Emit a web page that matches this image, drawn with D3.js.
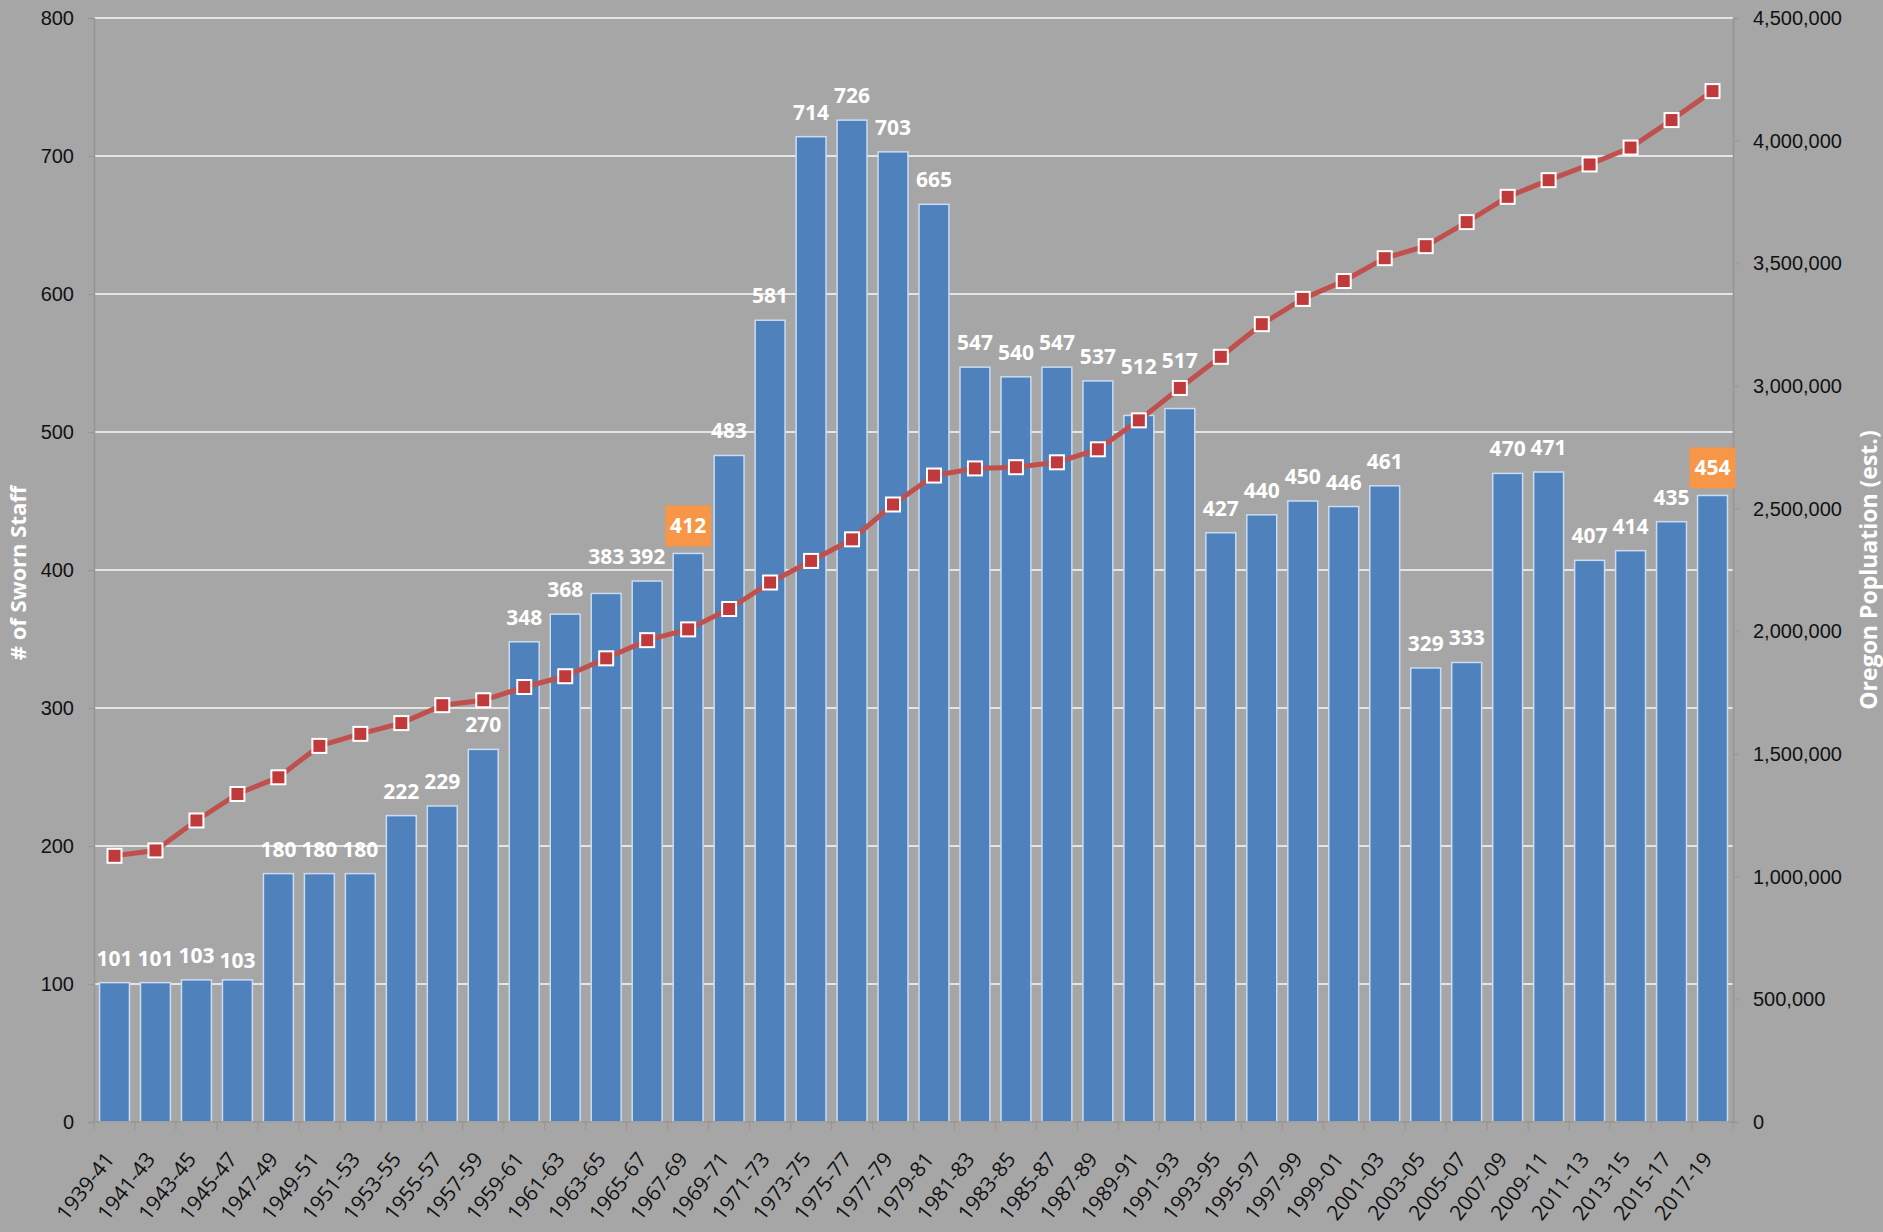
<!DOCTYPE html>
<html>
<head>
<meta charset="utf-8">
<script src="https://d3js.org/d3.v7.min.js"></script>
<style>
    body { margin: 0; background: #a6a6a6; }
    svg { display: block; font-family: "Open Sans", sans-serif; }
</style>
</head>
<body>
<svg width="1883" height="1232"></svg>
<script>
    // biennium periods
    var periods = ["1939-41", "1941-43", "1943-45", "1945-47", "1947-49", "1949-51", "1951-53", "1953-55",
        "1955-57", "1957-59", "1959-61", "1961-63", "1963-65", "1965-67", "1967-69", "1969-71", "1971-73",
        "1973-75", "1975-77", "1977-79", "1979-81", "1981-83", "1983-85", "1985-87", "1987-89", "1989-91",
        "1991-93", "1993-95", "1995-97", "1997-99", "1999-01", "2001-03", "2003-05", "2005-07", "2007-09",
        "2009-11", "2011-13", "2013-15", "2015-17", "2017-19"];

    // # of sworn staff (bars)
    var sworn = [101, 101, 103, 103, 180, 180, 180, 222, 229, 270, 348, 368, 383, 392, 412, 483, 581,
        714, 726, 703, 665, 547, 540, 547, 537, 512, 517, 427, 440, 450, 446, 461, 329, 333, 470,
        471, 407, 414, 435, 454];

    // Oregon population estimate (line)
    var population = [1085000, 1107000, 1229000, 1337000, 1405000, 1533000, 1582000, 1626000, 1699000,
        1719000, 1773000, 1817000, 1890000, 1964000, 2008000, 2091000, 2199000, 2287000, 2375000,
        2517000, 2635000, 2664000, 2669000, 2689000, 2742000, 2860000, 2992000, 3119000, 3252000,
        3355000, 3428000, 3521000, 3570000, 3668000, 3771000, 3839000, 3903000, 3972000, 4084000,
        4202000];

    // labels drawn on an orange box
    var highlighted = ["1967-69", "2017-19"];

    var leftTicks = [0, 100, 200, 300, 400, 500, 600, 700, 800];
    var rightTicks = [0, 500000, 1000000, 1500000, 2000000, 2500000, 3000000, 3500000, 4000000, 4500000];

    // labels that were dragged by hand in the original
    var labelNudge = {"1945-47": 5, "1963-65": -12, "1989-91": -24, "1991-93": -24};

    var svg = d3.select("svg"),
        margin = {top: 18, right: 150, bottom: 110, left: 94},
        width = +svg.attr("width") - margin.left - margin.right,
        height = +svg.attr("height") - margin.top - margin.bottom,
        g = svg.append("g").attr("transform", "translate(" + margin.left + "," + margin.top + ")");

    var data = periods.map(function(p, i) {
        return {period: p, sworn: sworn[i], pop: population[i]};
    });

    var x = d3.scaleBand()
        .domain(periods)
        .range([0, width])
        .paddingInner(0.27)
        .paddingOuter(0.135);

    var y = d3.scaleLinear().domain([0, 800]).range([height, 0]);
    var y2 = d3.scaleLinear().domain([0, 4500000]).range([height, 0]);

    // gridlines
    g.append("g")
        .selectAll("line")
        .data(leftTicks.slice(1))
        .enter().append("line")
        .attr("x1", 0)
        .attr("x2", width)
        .attr("y1", function(d) { return y(d); })
        .attr("y2", function(d) { return y(d); })
        .attr("stroke", "#e4e4e4")
        .attr("stroke-width", 2);

    // left axis
    var leftAxis = g.append("g")
        .call(d3.axisLeft(y).tickValues(leftTicks).tickSize(6).tickPadding(14));
    leftAxis.select(".domain").attr("stroke", "#959595").attr("stroke-width", 1.5);
    leftAxis.selectAll(".tick line").attr("stroke", "#959595");
    leftAxis.selectAll("text").attr("font-size", 20).attr("fill", "#111");

    // right axis
    var rightAxis = g.append("g")
        .attr("transform", "translate(" + width + ",0)")
        .call(d3.axisRight(y2).tickValues(rightTicks).tickSize(6).tickPadding(14).tickFormat(d3.format(",")));
    rightAxis.select(".domain").attr("stroke", "#959595").attr("stroke-width", 1.5);
    rightAxis.selectAll(".tick line").attr("stroke", "#959595");
    rightAxis.selectAll("text").attr("font-size", 20).attr("fill", "#111");

    // bars
    g.append("g")
        .selectAll("rect")
        .data(data)
        .enter().append("rect")
        .attr("x", function(d) { return x(d.period); })
        .attr("y", function(d) { return y(d.sworn); })
        .attr("width", x.bandwidth())
        .attr("height", function(d) { return height - y(d.sworn); })
        .attr("fill", "#4f81bd")
        .attr("stroke", "#c9dcf2")
        .attr("stroke-width", 1.5);

    // bottom axis with ticks at band boundaries
    var step = x.step();
    var bottom = g.append("g").attr("transform", "translate(0," + height + ")");
    bottom.append("line")
        .attr("x1", 0).attr("x2", width)
        .attr("stroke", "#9a948e").attr("stroke-width", 1.5);
    bottom.selectAll(".bt")
        .data(d3.range(periods.length + 1))
        .enter().append("line")
        .attr("class", "bt")
        .attr("x1", function(i) { return i * step; })
        .attr("x2", function(i) { return i * step; })
        .attr("y1", 0).attr("y2", 8)
        .attr("stroke", "#9a948e");
    bottom.selectAll("text")
        .data(periods)
        .enter().append("text")
        .attr("transform", function(d) {
            return "translate(" + (x(d) + x.bandwidth() / 2 - 5) + ",33) rotate(-52)";
        })
        .attr("text-anchor", "end")
        .attr("dy", "0.35em")
        .attr("font-size", 21)
        .attr("fill", "#111")
        .text(function(d) { return d; });

    // population line
    var line = d3.line()
        .x(function(d) { return x(d.period) + x.bandwidth() / 2; })
        .y(function(d) { return y2(d.pop); });

    g.append("path")
        .datum(data)
        .attr("fill", "none")
        .attr("stroke", "#c0504d")
        .attr("stroke-width", 5)
        .attr("stroke-linejoin", "round")
        .attr("d", line);

    g.append("g")
        .selectAll("rect")
        .data(data)
        .enter().append("rect")
        .attr("x", function(d) { return x(d.period) + x.bandwidth() / 2 - 7; })
        .attr("y", function(d) { return y2(d.pop) - 7; })
        .attr("width", 14)
        .attr("height", 14)
        .attr("fill", "#c0393b")
        .attr("stroke", "#ffffff")
        .attr("stroke-width", 2);

    // data labels
    var labels = g.append("g")
        .selectAll("g")
        .data(data)
        .enter().append("g")
        .attr("transform", function(d) {
            var dy = labelNudge[d.period] || 0;
            return "translate(" + (x(d.period) + x.bandwidth() / 2) + "," + (y(d.sworn) + dy) + ")";
        });

    labels.filter(function(d) { return highlighted.indexOf(d.period) >= 0; })
        .append("rect")
        .attr("x", -23)
        .attr("y", -48)
        .attr("width", 46)
        .attr("height", 41)
        .attr("fill", "#f79646");

    labels.append("text")
        .attr("text-anchor", "middle")
        .attr("y", function(d) { return highlighted.indexOf(d.period) >= 0 ? -20 : -17; })
        .attr("font-size", 21)
        .attr("font-weight", "bold")
        .attr("fill", "#ffffff")
        .text(function(d) { return d.sworn; });

    // axis titles
    svg.append("text")
        .attr("transform", "translate(26,573) rotate(-90)")
        .attr("text-anchor", "middle")
        .attr("font-size", 22)
        .attr("font-weight", "bold")
        .attr("fill", "#ffffff")
        .text("# of Sworn Staff");

    svg.append("text")
        .attr("transform", "translate(1877,570) rotate(-90)")
        .attr("text-anchor", "middle")
        .attr("font-size", 23)
        .attr("font-weight", "bold")
        .attr("fill", "#ffffff")
        .text("Oregon Popluation (est.)");
</script>
</body>
</html>
